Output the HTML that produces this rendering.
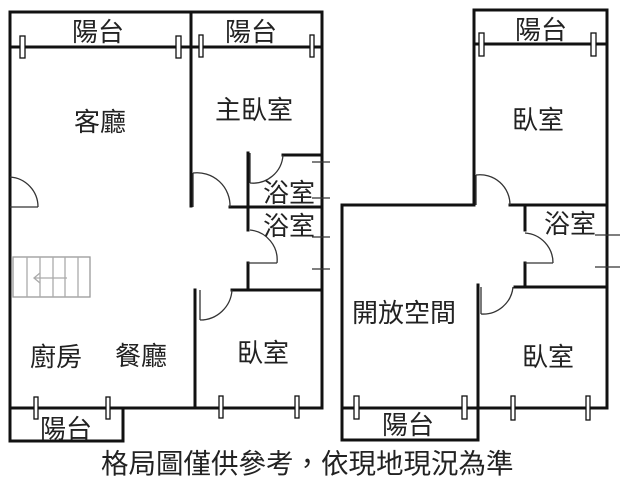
<!DOCTYPE html>
<html><head><meta charset="utf-8"><style>
html,body{margin:0;padding:0;background:#fff;width:621px;height:480px;overflow:hidden}
text{font-family:"Liberation Sans","Noto Sans CJK TC",sans-serif;fill:#222}
</style></head><body>
<svg width="621" height="480" viewBox="0 0 621 480" xmlns="http://www.w3.org/2000/svg">
<g stroke="#111" stroke-width="3" fill="none" stroke-linecap="square">
<polyline points="10,408 10,12 322,12 322,408 10,408"/>
<line x1="10" y1="47" x2="322" y2="47"/>
<line x1="191" y1="14" x2="191" y2="206"/>
<line x1="283" y1="155" x2="322" y2="155"/>
<line x1="248" y1="153" x2="248" y2="206"/>
<line x1="230" y1="207" x2="322" y2="207"/>
<line x1="248" y1="207" x2="248" y2="230"/>
<line x1="248" y1="263" x2="248" y2="290"/>
<line x1="232" y1="290" x2="322" y2="290"/>
<line x1="195" y1="290" x2="195" y2="408"/>
<polyline points="10,408 10,441 123,441 123,408"/>
<polyline points="474,205 474,10 607,10 607,408 342,408 342,205 474,205"/>
<line x1="474" y1="44" x2="607" y2="44"/>
<line x1="510" y1="205" x2="607" y2="205"/>
<line x1="525" y1="205" x2="525" y2="230"/>
<line x1="525" y1="263" x2="525" y2="287"/>
<line x1="515" y1="287" x2="607" y2="287"/>
<line x1="478" y1="285" x2="478" y2="440"/>
<polyline points="342,408 342,440 478,440"/>
</g>
<g stroke="#333" stroke-width="1.3" fill="none">
<path d="M10,177 A30,30 0 0 1 38,207"/><line x1="10" y1="207" x2="38" y2="207"/>
<path d="M193,173 A33,33 0 0 1 230,207"/><line x1="193" y1="173" x2="193" y2="207"/>
<path d="M283,155 A30,30 0 0 1 250,183"/><line x1="250" y1="153" x2="250" y2="183"/>
<path d="M250,230 A30,30 0 0 1 277,263"/><line x1="248" y1="263" x2="277" y2="263"/>
<path d="M232,290 A32,32 0 0 1 200,320"/><line x1="200" y1="290" x2="200" y2="320"/>
<path d="M476,175 A30,30 0 0 1 510,205"/><line x1="476" y1="175" x2="476" y2="205"/>
<path d="M525,233 A30,30 0 0 1 553,263"/><line x1="525" y1="263" x2="553" y2="263"/>
<path d="M513,287 A30,30 0 0 1 481,314"/><line x1="481" y1="287" x2="481" y2="314"/>
<rect x="13" y="257" width="77" height="40" stroke="#999"/>
<g stroke="#aaa"><line x1="27" y1="257" x2="27" y2="297"/><line x1="40" y1="257" x2="40" y2="297"/><line x1="53" y1="257" x2="53" y2="297"/><line x1="65" y1="257" x2="65" y2="297"/><line x1="78" y1="257" x2="78" y2="297"/>
<path d="M35,278 L67,278 M40,273 L34,278 L40,283"/></g>
<line x1="312" y1="162" x2="330" y2="162"/><line x1="312" y1="198" x2="330" y2="198"/>
<line x1="312" y1="237" x2="330" y2="237"/><line x1="312" y1="269" x2="330" y2="269"/>
<line x1="595" y1="235" x2="620" y2="235"/><line x1="595" y1="267" x2="620" y2="267"/>
</g>
<g stroke="#111" stroke-width="1.3" fill="#fff">
<rect x="20" y="36" width="5" height="22"/><rect x="176" y="36" width="5" height="22"/>
<rect x="199" y="35" width="4" height="22"/><rect x="310" y="35" width="4" height="22"/>
<rect x="479" y="33" width="5" height="23"/><rect x="591" y="33" width="5" height="23"/>
<rect x="34" y="397" width="4" height="22"/><rect x="106" y="397" width="4" height="22"/>
<rect x="219" y="396" width="4" height="22"/><rect x="295" y="396" width="4" height="22"/>
<rect x="354" y="396" width="5" height="23"/><rect x="462" y="396" width="5" height="23"/>
<rect x="511" y="396" width="4" height="24"/><rect x="586" y="396" width="4" height="24"/>
</g>
<g font-size="26">
<text x="72" y="41">陽台</text><text x="225" y="41">陽台</text><text x="515" y="39">陽台</text>
<text x="74" y="131">客廳</text><text x="215" y="119">主臥室</text><text x="512" y="129">臥室</text>
<text x="263" y="202">浴室</text><text x="263" y="235">浴室</text><text x="544" y="233">浴室</text>
<text x="352" y="322">開放空間</text>
<text x="30" y="366">廚房</text><text x="115" y="365">餐廳</text><text x="237" y="362">臥室</text><text x="522" y="366">臥室</text>
<text x="40" y="438">陽台</text><text x="382" y="434">陽台</text>
</g>
<text x="101" y="473" font-size="27.5">格局圖僅供參考，依現地現況為準</text>
</svg>
</body></html>
